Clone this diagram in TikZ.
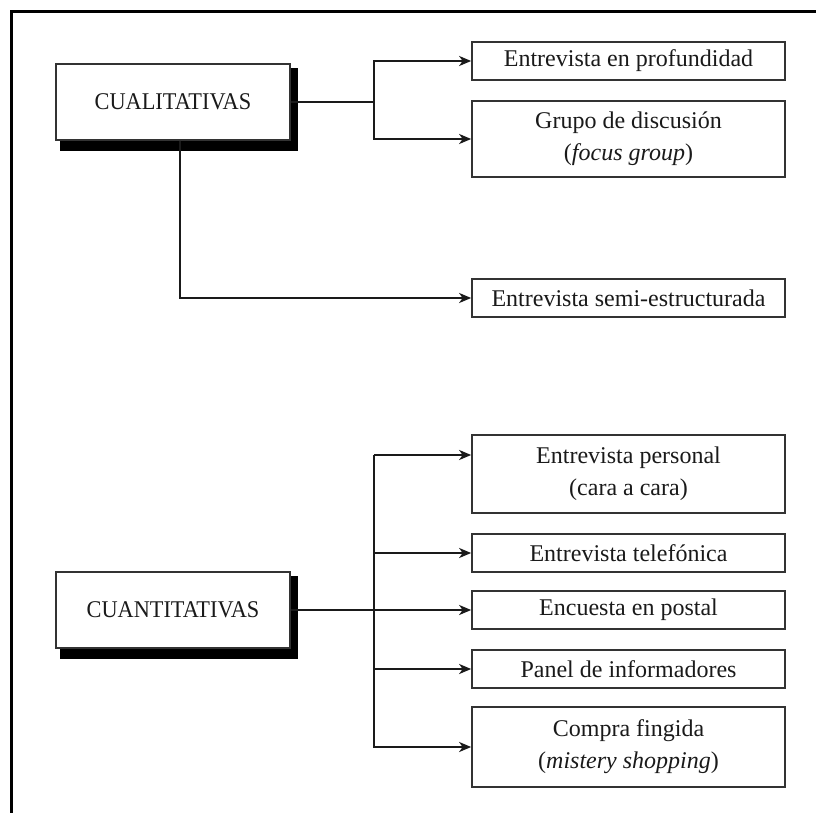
\documentclass[tikz,border=0pt]{standalone}
\usepackage{fontspec}
\setmainfont{Liberation Serif}
\newfontfamily\capsfont[FakeStretch=0.93]{Liberation Serif}
\usetikzlibrary{arrows.meta,backgrounds}
\definecolor{ink}{HTML}{1A1A1A}
\definecolor{edge}{HTML}{333333}
\tikzset{
  rbox/.style={draw=edge, line width=1.7pt, fill=white, minimum width=313pt,
    align=center, inner sep=0pt, text=ink, font=\fontsize{24}{32}\selectfont},
  mainbox/.style={draw=edge, line width=1.5pt, fill=white, minimum width=234pt,
    minimum height=76pt, inner sep=0pt, text=ink, font=\capsfont\fontsize{24}{32}\selectfont},
  conn/.style={draw=ink, line width=2pt},
  arr/.style={conn, -{Stealth[length=12pt,width=10pt,inset=3.5pt]}}
}
\begin{document}
\begin{tikzpicture}[x=1pt,y=-1pt]
\useasboundingbox (0,0) rectangle (816,813);
% outer frame (only top and left edges visible)
\draw[line width=2.8pt, black] (11.5,813) -- (11.5,11.5) -- (816,11.5);

% main boxes
\node[mainbox] (cual) at (173,102) {CUALITATIVAS};
\node[mainbox] (cuan) at (173,610) {CUANTITATIVAS};

% right boxes
\node[rbox, minimum height=38pt] (r1) at (628.5,61) {Entrevista en profundidad};
\node[rbox, minimum height=76pt] (r2) at (628.5,139) {Grupo de discusión\\(\textit{focus group})};
\node[rbox, minimum height=38pt] (r3) at (628.5,298) {Entrevista semi-estructurada};
\node[rbox, minimum height=78pt] (r4) at (628.5,474) {Entrevista personal\\(cara a cara)};
\node[rbox, minimum height=38pt] (r5) at (628.5,553) {Entrevista telefónica};
\node[rbox, minimum height=38pt] (r6) at (628.5,610) {Encuesta en postal};
\node[rbox, minimum height=38pt] (r7) at (628.5,669) {Panel de informadores};
\node[rbox, minimum height=80pt] (r8) at (628.5,747) {Compra fingida\\(\textit{mistery shopping})};

% shadows
\begin{scope}[on background layer]
\fill[black] ([shift={(5,5)}]cual.north west) rectangle ([shift={(7,10)}]cual.south east);
\fill[black] ([shift={(5,5)}]cuan.north west) rectangle ([shift={(7,10)}]cuan.south east);
\end{scope}

% connectors: cualitativas
\coordinate (j1) at (374,102);
\draw[conn] (cual.east) -- (j1);
\draw[arr] (j1) |- (r1.west);
\draw[arr] (j1) |- (r2.west);
\draw[arr] ([xshift=7pt]cual.south) |- (r3.west);

% connectors: cuantitativas
\coordinate (j2) at (374,610);
\coordinate (t4) at (374,455);
\draw[arr] (cuan.east) -- (r6.west);
\draw[arr] (t4) -- (t4 -| r4.west);
\draw[conn] (t4) -- (j2);
\draw[arr] (j2) |- (r5.west);
\draw[arr] (j2) |- (r7.west);
\draw[arr] (j2) |- (r8.west);
\end{tikzpicture}
\end{document}
